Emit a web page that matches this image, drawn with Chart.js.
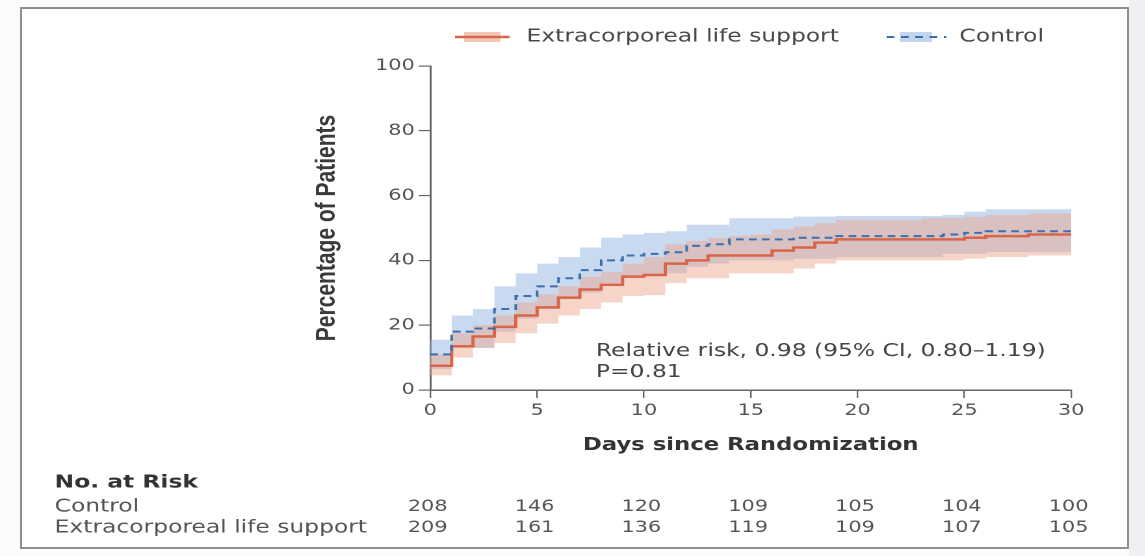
<!DOCTYPE html>
<html>
<head>
<meta charset="utf-8">
<script src="https://cdn.jsdelivr.net/npm/chart.js@4.4.1/dist/chart.umd.min.js"></script>
<style>
  html, body { margin: 0; padding: 0; background: #fbfbfc; width: 1145px; height: 556px; overflow: hidden; }
  #side { position: absolute; left: 1129px; top: 0; width: 16px; height: 556px; background: #eef0f4; }
  #frame { position: absolute; left: 20px; top: 7px; width: 1109px; height: 542px; border: 2px solid #8e8e8e; box-sizing: border-box; background: #fff; }
  /* the figure is laid out at 880px and widened horizontally */
  #wrap { position: absolute; left: 0; top: 0; width: 880px; height: 556px; transform: scaleX(1.3); transform-origin: 0 0; }
</style>
</head>
<body>
<div id="side"></div>
<div id="frame"></div>
<div id="wrap"><canvas id="c" width="880" height="556"></canvas></div>
<script>
// Cumulative incidence (%) by day since randomization, with 95% CI bands
const days = [0, 1, 2, 3, 4, 5, 6, 7, 8, 9, 10, 11, 12, 13, 14, 15, 16, 17, 18, 19, 20, 21, 22, 23, 24, 25, 26, 27, 28, 29, 30];

const controlPct   = [11, 18, 19, 25, 29, 32, 34.5, 37, 40, 41.5, 42, 42.5, 44.5, 45, 46.5, 46.5, 46.5, 47, 47, 47.5, 47.5, 47.5, 47.5, 47.5, 48, 48.5, 49, 49, 49, 49, 49];
const controlUpper = [15.5, 23, 25, 32, 36, 39, 41, 44, 47, 48, 48.5, 49, 51, 51, 53, 53, 53, 53.5, 53.5, 53.7, 53.7, 53.7, 53.7, 53.7, 54, 55, 55.8, 55.8, 55.8, 55.8, 55.8];
const controlLower = [6.5, 13, 13, 18, 22, 25, 28, 30, 33, 35, 35.5, 36, 38, 39, 40, 40, 40, 40.5, 40.5, 41, 41, 41, 41, 41, 42, 42, 42.5, 42.5, 42.5, 42.5, 42.5];

const eclsPct   = [7.5, 13.5, 16.5, 19.5, 23, 25.5, 28.5, 31, 32.5, 35, 35.5, 39, 40, 41.5, 41.5, 41.5, 43, 44, 45.5, 46.5, 46.5, 46.5, 46.5, 46.5, 46.5, 47, 47.5, 47.5, 48, 48, 48];
const eclsUpper = [11, 17.5, 20, 23, 27, 29.5, 32, 35, 36.5, 39, 41, 45, 46, 47, 47.5, 48, 49.5, 50.5, 51.5, 52.5, 52.5, 52.5, 52.5, 53, 53, 53.5, 54, 54, 54.5, 54.5, 54.5];
const eclsLower = [4.5, 10, 13, 14.5, 17.5, 20.5, 23, 25, 27, 29, 29.3, 33, 34.5, 34.5, 36, 36, 36, 37.5, 39, 40, 40, 40, 40, 40, 40, 40.5, 41, 41, 41.5, 41.5, 41.5];

// Numbers at risk
const riskDays    = [0, 5, 10, 15, 20, 25, 30];
const riskControl = [208, 146, 120, 109, 105, 104, 100];
const riskEcls    = [209, 161, 136, 119, 109, 107, 105];

const eclsName    = 'Extracorporeal life support';
const controlName = 'Control';
const riskTitle   = 'No. at Risk';
const statLines   = ['Relative risk, 0.98 (95% CI, 0.80\u20131.19)', 'P=0.81'];

const RED = '#d9654a';
const BLUE = '#3d6fae';
const RED_BAND = 'rgba(235,162,133,0.45)';
const BLUE_BAND = 'rgba(147,181,225,0.5)';
const FAMILY = '"DejaVu Sans", sans-serif';

const pts = arr => days.map((d, i) => ({ x: d, y: arr[i] }));

const stepLine = (label, arr, extra) => Object.assign({
  label, data: pts(arr), stepped: true, pointRadius: 0, pointHoverRadius: 0, fill: false,
  borderColor: 'rgba(0,0,0,0)', borderWidth: 1
}, extra);

// Legend, statistics text and the at-risk table
const annotations = {
  id: 'annotations',
  afterDraw(chart) {
    const { ctx, scales: { x, y } } = chart;
    ctx.save();

    // legend
    const ly = 37;
    ctx.fillStyle = '#f3c7b5';
    ctx.fillRect(357, ly - 5, 28, 10);
    ctx.strokeStyle = RED; ctx.lineWidth = 2.5;
    ctx.beginPath(); ctx.moveTo(350, ly); ctx.lineTo(392, ly); ctx.stroke();
    ctx.fillStyle = '#c3d6ef';
    ctx.fillRect(692, ly - 5, 25, 10);
    ctx.strokeStyle = BLUE; ctx.lineWidth = 2; ctx.setLineDash([6, 5]);
    ctx.beginPath(); ctx.moveTo(682, ly); ctx.lineTo(728, ly); ctx.stroke();
    ctx.setLineDash([]);
    ctx.fillStyle = '#484848';
    ctx.font = `18px ${FAMILY}`;
    ctx.textBaseline = 'middle';
    ctx.textAlign = 'left';
    ctx.fillText(eclsName, 405, ly);
    ctx.fillText(controlName, 738, ly);

    // statistics
    ctx.fillStyle = '#444';
    ctx.font = `18px ${FAMILY}`;
    ctx.fillText(statLines[0], x.getPixelForValue(7.75), y.getPixelForValue(12));
    ctx.fillText(statLines[1], x.getPixelForValue(7.75), y.getPixelForValue(5.5));

    // numbers at risk
    ctx.fillStyle = '#333';
    ctx.font = `bold 18px ${FAMILY}`;
    ctx.fillText(riskTitle, 42, 483);
    ctx.fillStyle = '#555';
    ctx.font = `18px ${FAMILY}`;
    ctx.fillText(controlName, 42, 507);
    ctx.fillText(eclsName, 42, 528);
    ctx.font = `16px ${FAMILY}`;
    ctx.textAlign = 'center';
    riskDays.forEach((d, i) => {
      const px = x.getPixelForValue(d) - 2;
      ctx.fillText(String(riskControl[i]), px, 507);
      ctx.fillText(String(riskEcls[i]), px, 528);
    });
    ctx.restore();
  }
};

new Chart(document.getElementById('c'), {
  type: 'line',
  data: {
    datasets: [
      stepLine(controlName, controlPct, { borderColor: BLUE, borderWidth: 2, borderDash: [6, 4] }),
      stepLine(eclsName, eclsPct, { borderColor: RED, borderWidth: 2.5 }),
      stepLine(eclsName + ' upper 95% CI', eclsUpper, { fill: '+1', backgroundColor: RED_BAND }),
      stepLine(eclsName + ' lower 95% CI', eclsLower),
      stepLine(controlName + ' upper 95% CI', controlUpper, { fill: '+1', backgroundColor: BLUE_BAND }),
      stepLine(controlName + ' lower 95% CI', controlLower)
    ]
  },
  options: {
    responsive: false,
    devicePixelRatio: 2,
    animation: false,
    events: [],
    layout: { padding: { left: 239, top: 66, right: 56, bottom: 96 } },
    plugins: { legend: { display: false }, tooltip: { enabled: false } },
    scales: {
      x: {
        type: 'linear', min: 0, max: 30,
        ticks: { stepSize: 5, color: '#555', font: { family: FAMILY, size: 16 }, padding: 3, maxRotation: 0 },
        grid: { drawOnChartArea: false, tickLength: 8, color: '#666', lineWidth: 1.2 },
        border: { color: '#666', width: 1.5 },
        title: { display: true, text: 'Days since Randomization', color: '#333',
                 font: { family: FAMILY, weight: 'bold', size: 17.5, lineHeight: 1.2 }, padding: { top: 0, bottom: 4 } },
        afterFit(s) { s.height = 70; }
      },
      y: {
        min: 0, max: 100,
        ticks: { stepSize: 20, color: '#555', font: { family: FAMILY, size: 16 }, padding: 3 },
        grid: { drawOnChartArea: false, tickLength: 9, color: '#666', lineWidth: 1.2 },
        border: { color: '#666', width: 1.5 },
        title: { display: true, text: 'Percentage of Patients', color: '#3a3a3a',
                 font: { family: '"Liberation Sans Narrow", sans-serif', weight: 'bold', size: 21, lineHeight: 1.2 }, padding: 0 },
        afterFit(s) { s.width = 92; }
      }
    }
  },
  plugins: [annotations]
});
</script>
</body>
</html>
